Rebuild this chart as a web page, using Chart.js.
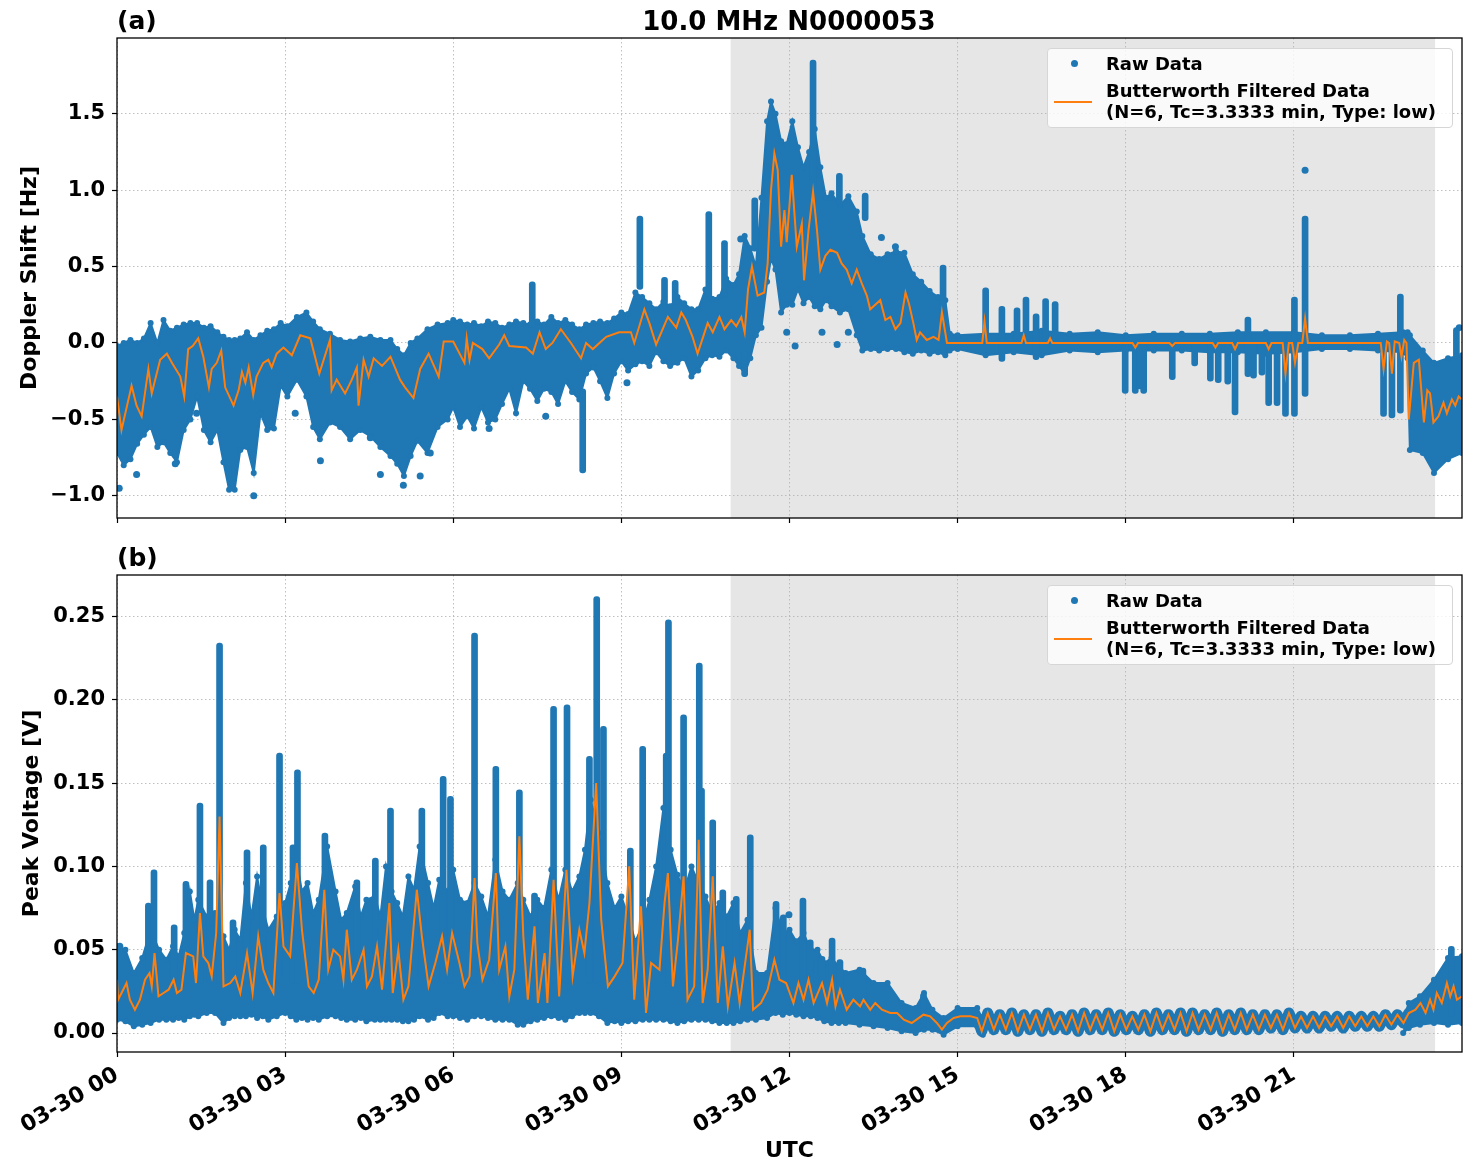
<!DOCTYPE html>
<html>
<head>
<meta charset="utf-8">
<script src="https://cdn.jsdelivr.net/npm/chart.js@4.4.1/dist/chart.umd.min.js"></script>
<style>
  body { margin: 0; background: #fff; font-family: "DejaVu Sans", sans-serif; font-weight: bold; color: #000; }
  #wrap { position: relative; width: 1471px; height: 1172px; overflow: hidden; }
  canvas { position: absolute; left: 0; }
  .lbl { position: absolute; font-size: 25px; line-height: 30px; white-space: nowrap; }
  .legend { position: absolute; left: 1047px; width: 404px; height: 78px; border: 1px solid #d6d6d6;
            border-radius: 4px; background: rgba(255,255,255,0.8); font-size: 18px; }
  .legend .dot { position: absolute; left: 23px; top: 11px; width: 7px; height: 7px; border-radius: 50%; background: #1f77b4; }
  .legend .line { position: absolute; left: 6px; top: 52px; width: 38px; height: 2px; background: #ff7f0e; }
  .legend .t { position: absolute; left: 58px; line-height: 21px; white-space: nowrap; }
</style>
</head>
<body>
<div id="wrap">
  <canvas id="chartA" width="1471" height="545" style="top:0"></canvas>
  <canvas id="chartB" width="1471" height="627" style="top:545px"></canvas>

  <div class="lbl" style="left:117px; top:6px;">(a)</div>
  <div class="lbl" style="left:117px; top:543px;">(b)</div>
  <div class="lbl" style="left:589px; width:400px; text-align:center; top:6px; font-size:26px;">10.0 MHz N0000053</div>

  <div class="legend" style="top:48px;">
    <div class="dot"></div><div class="line"></div>
    <div class="t" style="top:4px;">Raw Data</div>
    <div class="t" style="top:31px;">Butterworth Filtered Data</div>
    <div class="t" style="top:52px;">(N=6, Tc=3.3333 min, Type: low)</div>
  </div>
  <div class="legend" style="top:585px;">
    <div class="dot"></div><div class="line"></div>
    <div class="t" style="top:4px;">Raw Data</div>
    <div class="t" style="top:31px;">Butterworth Filtered Data</div>
    <div class="t" style="top:52px;">(N=6, Tc=3.3333 min, Type: low)</div>
  </div>
</div>

<script>
// time axis is hours after 03-30 00 UTC
const HOUR_TICKS = [0, 3, 6, 9, 12, 15, 18, 21];
const SHADE = [10.95, 23.52];

// ---- panel (a): Doppler shift [Hz] ----
// raw data envelope: [hour, low, high]
const bandA = [
  [0.0,-0.72,-0.02],[0.12,-0.80,0.0],[0.24,-0.76,0.02],[0.36,-0.66,0.0],[0.48,-0.60,0.03],
  [0.6,-0.55,0.13],[0.72,-0.68,0.0],[0.83,-0.65,0.15],[0.95,-0.72,0.08],[1.07,-0.78,0.10],
  [1.19,-0.57,0.12],[1.31,-0.50,0.13],[1.43,-0.35,0.13],[1.55,-0.57,0.10],[1.67,-0.65,0.11],
  [1.79,-0.57,0.07],[1.9,-0.78,0.04],[2.0,-0.96,0.02],[2.1,-0.96,0.02],[2.2,-0.70,0.03],
  [2.32,-0.68,0.07],[2.44,-0.85,0.02],[2.56,-0.46,0.05],[2.68,-0.57,0.08],[2.8,-0.56,0.09],
  [2.92,-0.28,0.13],[3.04,-0.35,0.11],[3.21,-0.24,0.17],[3.38,-0.35,0.20],[3.5,-0.55,0.14],
  [3.62,-0.63,0.09],[3.8,-0.52,0.06],[3.98,-0.55,0.02],[4.16,-0.63,0.01],[4.34,-0.57,0.03],
  [4.52,-0.61,0.04],[4.7,-0.68,0.02],[4.88,-0.74,0.02],[5.0,-0.79,-0.04],[5.12,-0.87,-0.08],
  [5.24,-0.74,0.0],[5.36,-0.64,0.03],[5.54,-0.72,0.09],[5.72,-0.55,0.12],[5.9,-0.50,0.13],
  [6.0,-0.42,0.15],[6.12,-0.55,0.14],[6.25,-0.48,0.12],[6.37,-0.56,0.13],[6.5,-0.42,0.11],
  [6.62,-0.52,0.14],[6.75,-0.50,0.13],[6.87,-0.40,0.10],[7.0,-0.30,0.12],[7.12,-0.46,0.14],
  [7.25,-0.25,0.13],[7.37,-0.30,0.12],[7.5,-0.38,0.14],[7.62,-0.30,0.12],[7.75,-0.32,0.17],
  [7.87,-0.40,0.13],[8.0,-0.25,0.15],[8.12,-0.32,0.12],[8.25,-0.37,0.09],[8.37,-0.20,0.12],
  [8.5,-0.16,0.13],[8.62,-0.25,0.14],[8.75,-0.36,0.13],[8.87,-0.20,0.16],[9.0,-0.12,0.20],
  [9.12,-0.18,0.19],[9.25,-0.14,0.33],[9.37,-0.12,0.30],[9.5,-0.15,0.26],[9.62,-0.06,0.22],
  [9.75,-0.12,0.27],[9.87,-0.15,0.24],[10.0,-0.13,0.30],[10.12,-0.10,0.26],[10.25,-0.22,0.22],
  [10.37,-0.18,0.22],[10.5,-0.10,0.35],[10.62,-0.08,0.29],[10.75,-0.09,0.30],[10.87,-0.05,0.42],
  [11.0,-0.10,0.38],[11.1,-0.15,0.45],[11.2,-0.20,0.70],[11.3,-0.10,0.62],[11.4,0.05,0.50],
  [11.5,0.10,0.95],[11.6,0.40,1.45],[11.67,0.55,1.58],[11.75,0.48,1.50],[11.85,0.20,1.32],
  [11.95,0.25,1.30],[12.05,0.25,1.45],[12.15,0.35,1.28],[12.25,0.26,1.15],[12.35,0.30,1.25],
  [12.45,0.24,1.40],[12.55,0.22,1.15],[12.65,0.28,0.95],[12.75,0.24,0.98],[12.9,0.20,0.90],
  [13.05,0.22,0.96],[13.2,0.05,0.86],[13.3,-0.05,0.70],[13.45,-0.04,0.58],[13.6,-0.05,0.55],
  [13.75,-0.04,0.58],[13.9,-0.04,0.60],[14.05,-0.06,0.59],[14.2,-0.07,0.45],[14.35,-0.05,0.40],
  [14.5,-0.07,0.34],[14.65,-0.06,0.30],[14.78,-0.08,0.28],[14.86,-0.05,0.06],[15.0,-0.04,0.05],
  [15.5,-0.08,0.06],[16.0,-0.06,0.06],[16.5,-0.08,0.08],[17.0,-0.05,0.06],[17.5,-0.06,0.07],
  [18.0,-0.05,0.05],[18.5,-0.05,0.06],[19.0,-0.05,0.06],[19.5,-0.06,0.06],[20.0,-0.06,0.07],
  [20.5,-0.07,0.07],[21.0,-0.06,0.07],[21.5,-0.04,0.05],[22.0,-0.04,0.05],[22.5,-0.05,0.06],
  [22.95,-0.06,0.07],[23.03,-0.10,0.07],[23.07,-0.70,0.05],[23.3,-0.72,-0.05],[23.5,-0.85,-0.13],
  [23.75,-0.76,-0.10],[24.0,-0.72,-0.08]
];
// narrow vertical runs of raw points: [hour, low, high]
const spikesA = [
  [7.41,0.10,0.40],[8.31,-0.85,-0.30],[9.33,0.35,0.83],[9.77,0.25,0.43],[9.96,0.25,0.41],
  [10.56,0.30,0.86],[10.84,0.30,0.67],[11.2,-0.22,-0.05],[11.38,0.60,0.95],[12.42,1.0,1.85],
  [12.89,0.9,1.11],[13.35,0.8,0.98],[14.74,0.0,0.51],[15.5,0.0,0.36],[15.79,-0.12,0.24],
  [16.06,0.0,0.23],[16.22,0.0,0.30],[16.40,-0.11,0.19],[16.57,0.0,0.29],[16.74,0.0,0.27],
  [17.99,-0.33,0.0],[18.17,-0.33,0.0],[18.25,-0.30,0.0],[18.32,-0.33,0.0],[18.83,-0.24,0.0],
  [19.23,-0.15,0.0],[19.51,-0.25,0.0],[19.65,-0.26,0.0],[19.82,-0.27,0.0],[19.95,-0.47,0.0],
  [20.18,-0.22,0.17],[20.28,-0.23,0.0],[20.43,-0.21,0.0],[20.55,-0.41,0.0],[20.70,-0.41,0.0],
  [20.85,-0.48,0.0],[21.01,-0.48,0.30],[21.2,-0.35,0.83],[22.6,-0.48,0.0],[22.75,-0.49,0.0],
  [22.9,-0.46,0.32],[23.9,-0.1,0.10]
];
// isolated raw points: [hour, value]
const dotsA = [
  [0.04,-0.95],[0.35,-0.86],[1.04,-0.79],[1.42,-0.46],[2.44,-1.0],[3.18,-0.46],[3.63,-0.77],
  [4.52,-0.62],[4.7,-0.86],[5.11,-0.93],[5.41,-0.87],[5.59,-0.72],[6.64,-0.56],[7.65,-0.48],
  [9.1,-0.26],[11.13,0.68],[11.95,0.07],[12.1,-0.02],[12.58,0.07],[12.85,-0.01],[13.05,0.07],
  [13.64,0.69],[13.89,0.63],[21.2,1.13],[23.95,0.10]
];
// Butterworth filtered: [hour, value]
const filtA = [
  [0,-0.35],[0.08,-0.57],[0.26,-0.28],[0.35,-0.41],[0.44,-0.48],[0.56,-0.17],[0.62,-0.33],
  [0.77,-0.11],[0.89,-0.07],[0.98,-0.13],[1.13,-0.22],[1.2,-0.35],[1.27,-0.04],[1.35,-0.02],
  [1.45,0.03],[1.54,-0.09],[1.64,-0.29],[1.69,-0.17],[1.78,-0.13],[1.86,-0.05],[1.93,-0.29],
  [2.08,-0.41],[2.17,-0.31],[2.23,-0.19],[2.29,-0.26],[2.35,-0.16],[2.43,-0.34],[2.49,-0.22],
  [2.61,-0.13],[2.7,-0.11],[2.76,-0.16],[2.85,-0.07],[2.97,-0.03],[3.12,-0.08],[3.27,0.05],
  [3.45,0.03],[3.61,-0.2],[3.8,0.02],[3.83,-0.31],[3.92,-0.24],[4.07,-0.33],[4.19,-0.24],
  [4.28,-0.16],[4.31,-0.41],[4.4,-0.11],[4.49,-0.22],[4.58,-0.1],[4.73,-0.15],[4.88,-0.09],
  [5.05,-0.24],[5.14,-0.29],[5.29,-0.36],[5.41,-0.17],[5.56,-0.07],[5.74,-0.22],[5.83,0.01],
  [6.0,0.01],[6.2,-0.13],[6.24,0.03],[6.29,-0.11],[6.35,0.0],[6.52,-0.04],[6.64,-0.1],
  [6.82,-0.01],[6.91,0.05],[7.0,-0.02],[7.3,-0.03],[7.42,-0.07],[7.54,0.07],[7.65,-0.04],
  [7.77,0.0],[7.92,0.09],[8.1,0.0],[8.28,-0.1],[8.37,0.0],[8.49,-0.04],[8.73,0.04],
  [8.96,0.07],[9.17,0.07],[9.23,0.0],[9.41,0.22],[9.5,0.13],[9.62,-0.01],[9.83,0.17],
  [9.98,0.1],[10.07,0.2],[10.15,0.15],[10.27,0.04],[10.36,-0.07],[10.54,0.13],[10.63,0.07],
  [10.75,0.17],[10.84,0.09],[10.96,0.15],[11.05,0.11],[11.14,0.17],[11.2,0.07],[11.26,0.35],
  [11.33,0.5],[11.43,0.31],[11.55,0.33],[11.61,0.52],[11.67,1.0],[11.73,1.24],[11.79,1.13],
  [11.85,0.63],[11.91,0.87],[11.95,0.66],[12.04,1.1],[12.13,0.63],[12.22,0.78],[12.26,0.41],
  [12.34,0.74],[12.42,0.99],[12.49,0.74],[12.55,0.48],[12.64,0.57],[12.73,0.61],[12.85,0.59],
  [12.93,0.52],[13.02,0.48],[13.11,0.39],[13.2,0.48],[13.29,0.39],[13.38,0.31],[13.44,0.22],
  [13.5,0.24],[13.62,0.28],[13.71,0.15],[13.8,0.17],[13.89,0.09],[13.98,0.13],[14.07,0.33],
  [14.13,0.26],[14.21,0.13],[14.27,0.02],[14.33,0.07],[14.45,0.02],[14.57,0.04],[14.66,0.02],
  [14.72,0.2],[14.81,0.0],[15.44,0.0],[15.48,0.14],[15.52,0.0],[16.14,0.0],[16.18,0.05],
  [16.22,0.0],[16.61,0.0],[16.65,0.03],[16.69,0.0],[18.12,0.0],[18.17,-0.03],[18.22,0.0],
  [18.78,0.0],[18.83,-0.02],[18.88,0.0],[19.55,0.0],[19.6,-0.03],[19.65,0.0],[19.9,0.0],
  [19.95,-0.04],[20.0,0.0],[20.5,0.0],[20.55,-0.04],[20.6,0.0],[20.8,0.0],[20.85,-0.2],
  [20.91,0.0],[20.97,0.0],[21.02,-0.13],[21.08,0.0],[21.15,0.0],[21.2,0.16],[21.25,0.0],
  [22.55,0.0],[22.6,-0.17],[22.66,0.01],[22.7,0.0],[22.75,-0.2],[22.8,0.01],[22.88,0.0],
  [22.92,-0.09],[22.97,0.02],[23.01,0.0],[23.05,-0.5],[23.14,-0.13],[23.23,-0.11],
  [23.32,-0.52],[23.38,-0.31],[23.43,-0.33],[23.49,-0.52],[23.58,-0.48],[23.67,-0.39],
  [23.73,-0.46],[23.82,-0.37],[23.88,-0.41],[23.94,-0.35],[24.0,-0.37]
];

// ---- panel (b): peak voltage [V] ----
const bandB = [
  [0,0.008,0.052],[0.15,0.007,0.05],[0.3,0.004,0.036],[0.45,0.005,0.045],[0.6,0.006,0.062],
  [0.75,0.008,0.05],[0.88,0.008,0.044],[1.0,0.008,0.052],[1.1,0.009,0.046],[1.2,0.008,0.06],
  [1.3,0.01,0.085],[1.38,0.011,0.068],[1.45,0.01,0.08],[1.6,0.012,0.07],[1.75,0.012,0.072],
  [1.9,0.006,0.058],[2.0,0.009,0.05],[2.1,0.01,0.062],[2.2,0.01,0.056],[2.3,0.01,0.09],
  [2.4,0.011,0.07],[2.5,0.009,0.094],[2.6,0.01,0.075],[2.7,0.008,0.062],[2.85,0.01,0.07],
  [3.0,0.012,0.078],[3.1,0.01,0.09],[3.2,0.008,0.105],[3.3,0.009,0.085],[3.4,0.008,0.09],
  [3.5,0.009,0.072],[3.6,0.008,0.08],[3.75,0.01,0.112],[3.9,0.01,0.085],[4.0,0.009,0.068],
  [4.1,0.008,0.072],[4.25,0.008,0.088],[4.35,0.009,0.07],[4.45,0.007,0.08],[4.6,0.008,0.082],
  [4.7,0.008,0.07],[4.8,0.008,0.1],[4.9,0.008,0.085],[5.0,0.008,0.078],[5.1,0.007,0.07],
  [5.2,0.007,0.094],[5.3,0.008,0.086],[5.4,0.01,0.112],[5.55,0.008,0.09],[5.65,0.009,0.075],
  [5.75,0.012,0.092],[5.9,0.01,0.085],[6.0,0.01,0.098],[6.12,0.009,0.08],[6.25,0.008,0.078],
  [6.38,0.01,0.09],[6.5,0.01,0.082],[6.62,0.009,0.07],[6.75,0.008,0.104],[6.88,0.008,0.085],
  [7.0,0.008,0.08],[7.15,0.005,0.09],[7.25,0.005,0.08],[7.38,0.007,0.07],[7.5,0.008,0.08],
  [7.62,0.009,0.075],[7.75,0.01,0.098],[7.88,0.009,0.08],[8.0,0.008,0.098],[8.12,0.01,0.085],
  [8.25,0.012,0.094],[8.35,0.012,0.11],[8.45,0.012,0.14],[8.6,0.01,0.12],[8.75,0.006,0.09],
  [8.88,0.007,0.075],[9.0,0.006,0.082],[9.12,0.007,0.07],[9.25,0.007,0.055],[9.38,0.008,0.065],
  [9.5,0.008,0.08],[9.62,0.008,0.1],[9.75,0.008,0.135],[9.88,0.007,0.11],[10.0,0.006,0.095],
  [10.12,0.007,0.085],[10.25,0.008,0.1],[10.38,0.008,0.09],[10.5,0.008,0.082],[10.62,0.007,0.072],
  [10.75,0.006,0.078],[10.88,0.006,0.07],[11.0,0.006,0.078],[11.12,0.007,0.06],[11.25,0.008,0.068],
  [11.4,0.008,0.036],[11.6,0.009,0.036],[11.75,0.012,0.075],[11.88,0.011,0.06],[12.0,0.012,0.062],
  [12.12,0.011,0.055],[12.25,0.01,0.06],[12.38,0.01,0.05],[12.5,0.009,0.05],[12.62,0.007,0.042],
  [12.75,0.006,0.045],[12.88,0.006,0.04],[13.0,0.006,0.036],[13.25,0.005,0.038],[13.5,0.004,0.03],
  [13.75,0.003,0.03],[14.0,0.001,0.018],[14.25,0.0,0.015],[14.4,0.002,0.024],[14.55,0.002,0.014],
  [14.75,-0.001,0.009],[15.0,0.004,0.015],[15.35,0.004,0.015],[15.45,-0.001,0.008]
];
const bandBEnd = [
  [22.95,0.0,0.008],[23.05,0.003,0.018],[23.25,0.005,0.022],[23.5,0.006,0.032],
  [23.75,0.005,0.045],[24.0,0.006,0.046]
];
const spikesB = [
  [0.56,0.03,0.078],[0.66,0.03,0.098],[1.02,0.03,0.065],[1.23,0.03,0.091],[1.48,0.03,0.138],
  [1.66,0.03,0.092],[1.83,0.03,0.234],[2.07,0.03,0.068],[2.32,0.03,0.11],[2.61,0.03,0.113],
  [2.9,0.03,0.168],[3.14,0.03,0.113],[3.22,0.03,0.158],[3.71,0.03,0.12],[4.28,0.03,0.092],
  [4.61,0.03,0.105],[4.88,0.03,0.135],[5.44,0.03,0.135],[5.82,0.03,0.154],[5.95,0.03,0.142],
  [6.38,0.03,0.24],[6.76,0.03,0.16],[7.18,0.03,0.146],[7.45,0.03,0.084],[7.79,0.03,0.196],
  [8.03,0.03,0.197],[8.43,0.03,0.166],[8.56,0.03,0.262],[8.68,0.03,0.184],[9.16,0.03,0.111],
  [9.38,0.03,0.172],[9.8,0.03,0.168],[9.84,0.03,0.248],[10.11,0.03,0.191],[10.39,0.03,0.222],
  [10.43,0.03,0.147],[10.63,0.03,0.128],[10.81,0.03,0.086],[11.05,0.03,0.082],[11.3,0.03,0.119],
  [11.76,0.03,0.079],[11.89,0.03,0.071],[12.24,0.03,0.081],[12.37,0.03,0.056],[12.58,0.02,0.046],
  [12.76,0.02,0.057],[12.9,0.02,0.044],[13.31,0.02,0.039],[14.39,0.005,0.024],[23.81,0.01,0.052]
];
const dotsB = [[0.05,0.052],[11.99,0.071]];
const filtB = [
  [0,0.032],[0.02,0.02],[0.11,0.026],[0.17,0.03],[0.23,0.02],[0.32,0.014],[0.41,0.02],[0.5,0.032],
  [0.58,0.036],[0.62,0.028],[0.67,0.048],[0.74,0.022],[0.83,0.024],[0.92,0.026],[1.01,0.032],
  [1.07,0.024],[1.15,0.026],[1.23,0.048],[1.36,0.046],[1.41,0.03],[1.48,0.072],[1.54,0.046],
  [1.63,0.042],[1.69,0.034],[1.77,0.06],[1.83,0.13],[1.9,0.028],[2.02,0.03],[2.11,0.034],
  [2.2,0.024],[2.32,0.048],[2.42,0.024],[2.52,0.058],[2.61,0.038],[2.7,0.03],[2.79,0.024],
  [2.9,0.084],[2.97,0.052],[3.09,0.046],[3.21,0.102],[3.3,0.062],[3.42,0.028],[3.51,0.024],
  [3.6,0.032],[3.7,0.086],[3.77,0.038],[3.86,0.05],[3.98,0.046],[4.04,0.032],[4.1,0.062],
  [4.19,0.032],[4.28,0.038],[4.4,0.05],[4.46,0.028],[4.55,0.034],[4.64,0.052],[4.73,0.026],
  [4.86,0.078],[4.92,0.024],[5.02,0.05],[5.11,0.02],[5.2,0.028],[5.35,0.086],[5.44,0.058],
  [5.56,0.028],[5.68,0.042],[5.8,0.058],[5.89,0.038],[5.98,0.06],[6.11,0.042],[6.2,0.028],
  [6.29,0.034],[6.38,0.093],[6.43,0.054],[6.52,0.032],[6.64,0.044],[6.76,0.096],[6.82,0.038],
  [6.93,0.052],[7.0,0.022],[7.09,0.038],[7.18,0.118],[7.25,0.058],[7.33,0.02],[7.45,0.064],
  [7.51,0.018],[7.63,0.048],[7.68,0.018],[7.79,0.092],[7.89,0.022],[8.02,0.098],[8.13,0.034],
  [8.25,0.062],[8.34,0.048],[8.43,0.078],[8.55,0.15],[8.64,0.068],[8.76,0.028],[8.88,0.034],
  [9.02,0.042],[9.14,0.1],[9.23,0.02],[9.35,0.076],[9.44,0.012],[9.53,0.042],[9.68,0.038],
  [9.77,0.078],[9.83,0.096],[9.92,0.028],[10.01,0.056],[10.11,0.094],[10.18,0.02],[10.3,0.028],
  [10.38,0.116],[10.45,0.018],[10.54,0.038],[10.63,0.094],[10.72,0.018],[10.81,0.052],[10.9,0.016],
  [11.02,0.042],[11.11,0.018],[11.2,0.04],[11.29,0.062],[11.35,0.014],[11.49,0.018],[11.61,0.026],
  [11.73,0.044],[11.82,0.032],[11.94,0.03],[12.07,0.018],[12.16,0.03],[12.25,0.02],[12.34,0.032],
  [12.43,0.018],[12.58,0.03],[12.67,0.018],[12.76,0.032],[12.82,0.016],[12.9,0.026],[13.02,0.014],
  [13.14,0.02],[13.26,0.016],[13.32,0.02],[13.44,0.014],[13.53,0.018],[13.65,0.014],[13.8,0.012],
  [13.92,0.012],[14.04,0.008],[14.18,0.006],[14.39,0.011],[14.51,0.01],[14.63,0.006],[14.72,0.002],
  [14.81,0.006],[14.93,0.009],[15.05,0.01],[15.23,0.01],[15.35,0.009]
];
// steady oscillation of the filtered trace, alternating trough / crest
const OSC_START = 15.43, OSC_STEP = 0.1075;
const oscB = [
  0.001,0.012,0.002,0.011,0.002,0.012,0.001,0.011,0.002,0.011,0.001,0.012,0.002,0.010,0.002,0.011,0.001,0.012,0.002,0.011,
  0.002,0.012,0.001,0.011,0.002,0.010,0.002,0.011,0.001,0.012,0.002,0.011,0.002,0.012,0.001,0.012,0.002,0.011,0.002,0.012,
  0.001,0.011,0.002,0.012,0.002,0.011,0.002,0.011,0.003,0.011,0.002,0.012,0.003,0.010,0.003,0.010,0.003,0.010,0.004,0.010,
  0.003,0.010,0.004,0.010,0.004,0.010,0.004,0.011,0.005,0.011,0.006
];
const filtBEnd = [
  [23.05,0.012],[23.17,0.014],[23.26,0.018],[23.35,0.012],[23.43,0.02],[23.49,0.014],[23.55,0.024],
  [23.64,0.018],[23.73,0.03],[23.79,0.022],[23.85,0.028],[23.91,0.02],[24.0,0.022]
];

const FONT = 'DejaVu Sans';
const BLUE = '#1f77b4';
const ORANGE = '#ff7f0e';

const pts = arr => arr.map(p => ({ x: p[0], y: p[1] }));

// envelope as one closed outline: upper edge forward, lower edge back
function outline(band) {
  const upper = band.map(b => ({ x: b[0], y: b[2] }));
  const lower = band.slice().reverse().map(b => ({ x: b[0], y: b[1] }));
  return upper.concat(lower);
}

function buildDatasets(bands, thick, spikes, dots, filt) {
  const ds = [];
  bands.forEach(band => {
    ds.push({ type: 'line', data: outline(band), borderColor: BLUE, borderWidth: 2,
              pointRadius: 3, pointBackgroundColor: BLUE, pointBorderWidth: 0,
              fill: 'shape', backgroundColor: BLUE, order: 3 });
  });
  if (thick) {
    ds.push({ type: 'line', data: thick, borderColor: BLUE, borderWidth: 11, pointRadius: 0,
              borderJoinStyle: 'round', borderCapStyle: 'round', order: 2 });
  }
  ds.push({ type: 'bar', data: spikes.map(s => ({ x: s[0], y: [s[1], s[2]] })), backgroundColor: BLUE,
            barThickness: 6, borderRadius: 3, borderSkipped: false, borderWidth: 0, order: 1 });
  ds.push({ type: 'scatter', data: pts(dots), backgroundColor: BLUE, borderWidth: 0, pointRadius: 3.5,
            showLine: false, order: 1 });
  ds.push({ type: 'line', data: filt, borderColor: ORANGE, borderWidth: 2, pointRadius: 0, order: 0 });
  return ds;
}

// gray span under the grid, plus the full box around the axes
const frameAndShade = {
  id: 'frameAndShade',
  beforeDraw(chart) {
    const { ctx, chartArea: a, scales: { x } } = chart;
    const x0 = x.getPixelForValue(SHADE[0]), x1 = x.getPixelForValue(SHADE[1]);
    ctx.save();
    ctx.fillStyle = '#e6e6e6';
    ctx.fillRect(x0, a.top, x1 - x0, a.bottom - a.top);
    ctx.restore();
  },
  afterDraw(chart) {
    const { ctx, chartArea: a } = chart;
    ctx.save();
    ctx.strokeStyle = '#000';
    ctx.lineWidth = 1.3;
    ctx.strokeRect(a.left, a.top, a.right - a.left, a.bottom - a.top);
    ctx.restore();
  }
};

const gridOpts = { color: '#b0b0b0', lineWidth: 0.8, tickColor: '#000', tickLength: 5, tickWidth: 1.2, offset: false };
const borderOpts = { display: false, dash: [1.5, 2.5] };
const tickFont = { family: FONT, size: 21, weight: 'bold' };
const xTickFont = { family: FONT, size: 22, weight: 'bold' };
const titleFont = { family: FONT, size: 22, weight: 'bold' };

function xScale(showLabels) {
  return {
    type: 'linear', min: 0, max: 24, offset: false,
    afterBuildTicks: s => { s.ticks = HOUR_TICKS.map(v => ({ value: v })); },
    afterFit: s => { s.height = showLabels ? 120 : 27; },
    grid: gridOpts,
    border: borderOpts,
    ticks: {
      display: showLabels, autoSkip: false, minRotation: 30, maxRotation: 30, padding: 5,
      color: '#000', font: xTickFont,
      callback: v => '03-30 ' + String(v).padStart(2, '0')
    },
    title: showLabels
      ? { display: true, text: 'UTC', color: '#000', font: titleFont, padding: { top: 0, bottom: 8 } }
      : { display: false }
  };
}

function yScale(min, max, ticks, digits, label, titlePad) {
  return {
    type: 'linear', min: min, max: max,
    afterBuildTicks: s => { s.ticks = ticks.map(v => ({ value: v })); },
    afterFit: s => { s.width = 117; },
    grid: gridOpts,
    border: borderOpts,
    ticks: { padding: 7, color: '#000', font: tickFont,
             callback: v => v.toFixed(digits).replace('-', '\u2212') },
    title: { display: true, text: label, color: '#000', font: titleFont, padding: { top: titlePad, bottom: 0 } }
  };
}

function makeChart(id, datasets, x, y, padTop) {
  return new Chart(document.getElementById(id), {
    type: 'line',
    data: { datasets: datasets },
    options: {
      responsive: false,
      devicePixelRatio: 1,
      animation: false,
      layout: { padding: { top: padTop, right: 9, left: 0, bottom: 0 } },
      plugins: { legend: { display: false }, tooltip: { enabled: false } },
      scales: { x: x, y: y }
    },
    plugins: [frameAndShade]
  });
}

const oscPts = oscB.map((v, i) => ({ x: OSC_START + i * OSC_STEP, y: v }));
const filtBAll = pts(filtB).concat(oscPts, pts(filtBEnd));
const thickB = [pts(filtB).slice(-1)[0]].concat(oscPts, [pts(filtBEnd)[0]]);

makeChart('chartA',
  buildDatasets([bandA], null, spikesA, dotsA, pts(filtA)),
  xScale(false),
  yScale(-1.145, 1.995, [-1, -0.5, 0, 0.5, 1.0, 1.5], 1, 'Doppler Shift [Hz]', 17),
  38);

makeChart('chartB',
  buildDatasets([bandB, bandBEnd], thickB, spikesB, dotsB, filtBAll),
  xScale(true),
  yScale(-0.0114, 0.2749, [0, 0.05, 0.10, 0.15, 0.20, 0.25], 2, 'Peak Voltage [V]', 19),
  30);
</script>
</body>
</html>
